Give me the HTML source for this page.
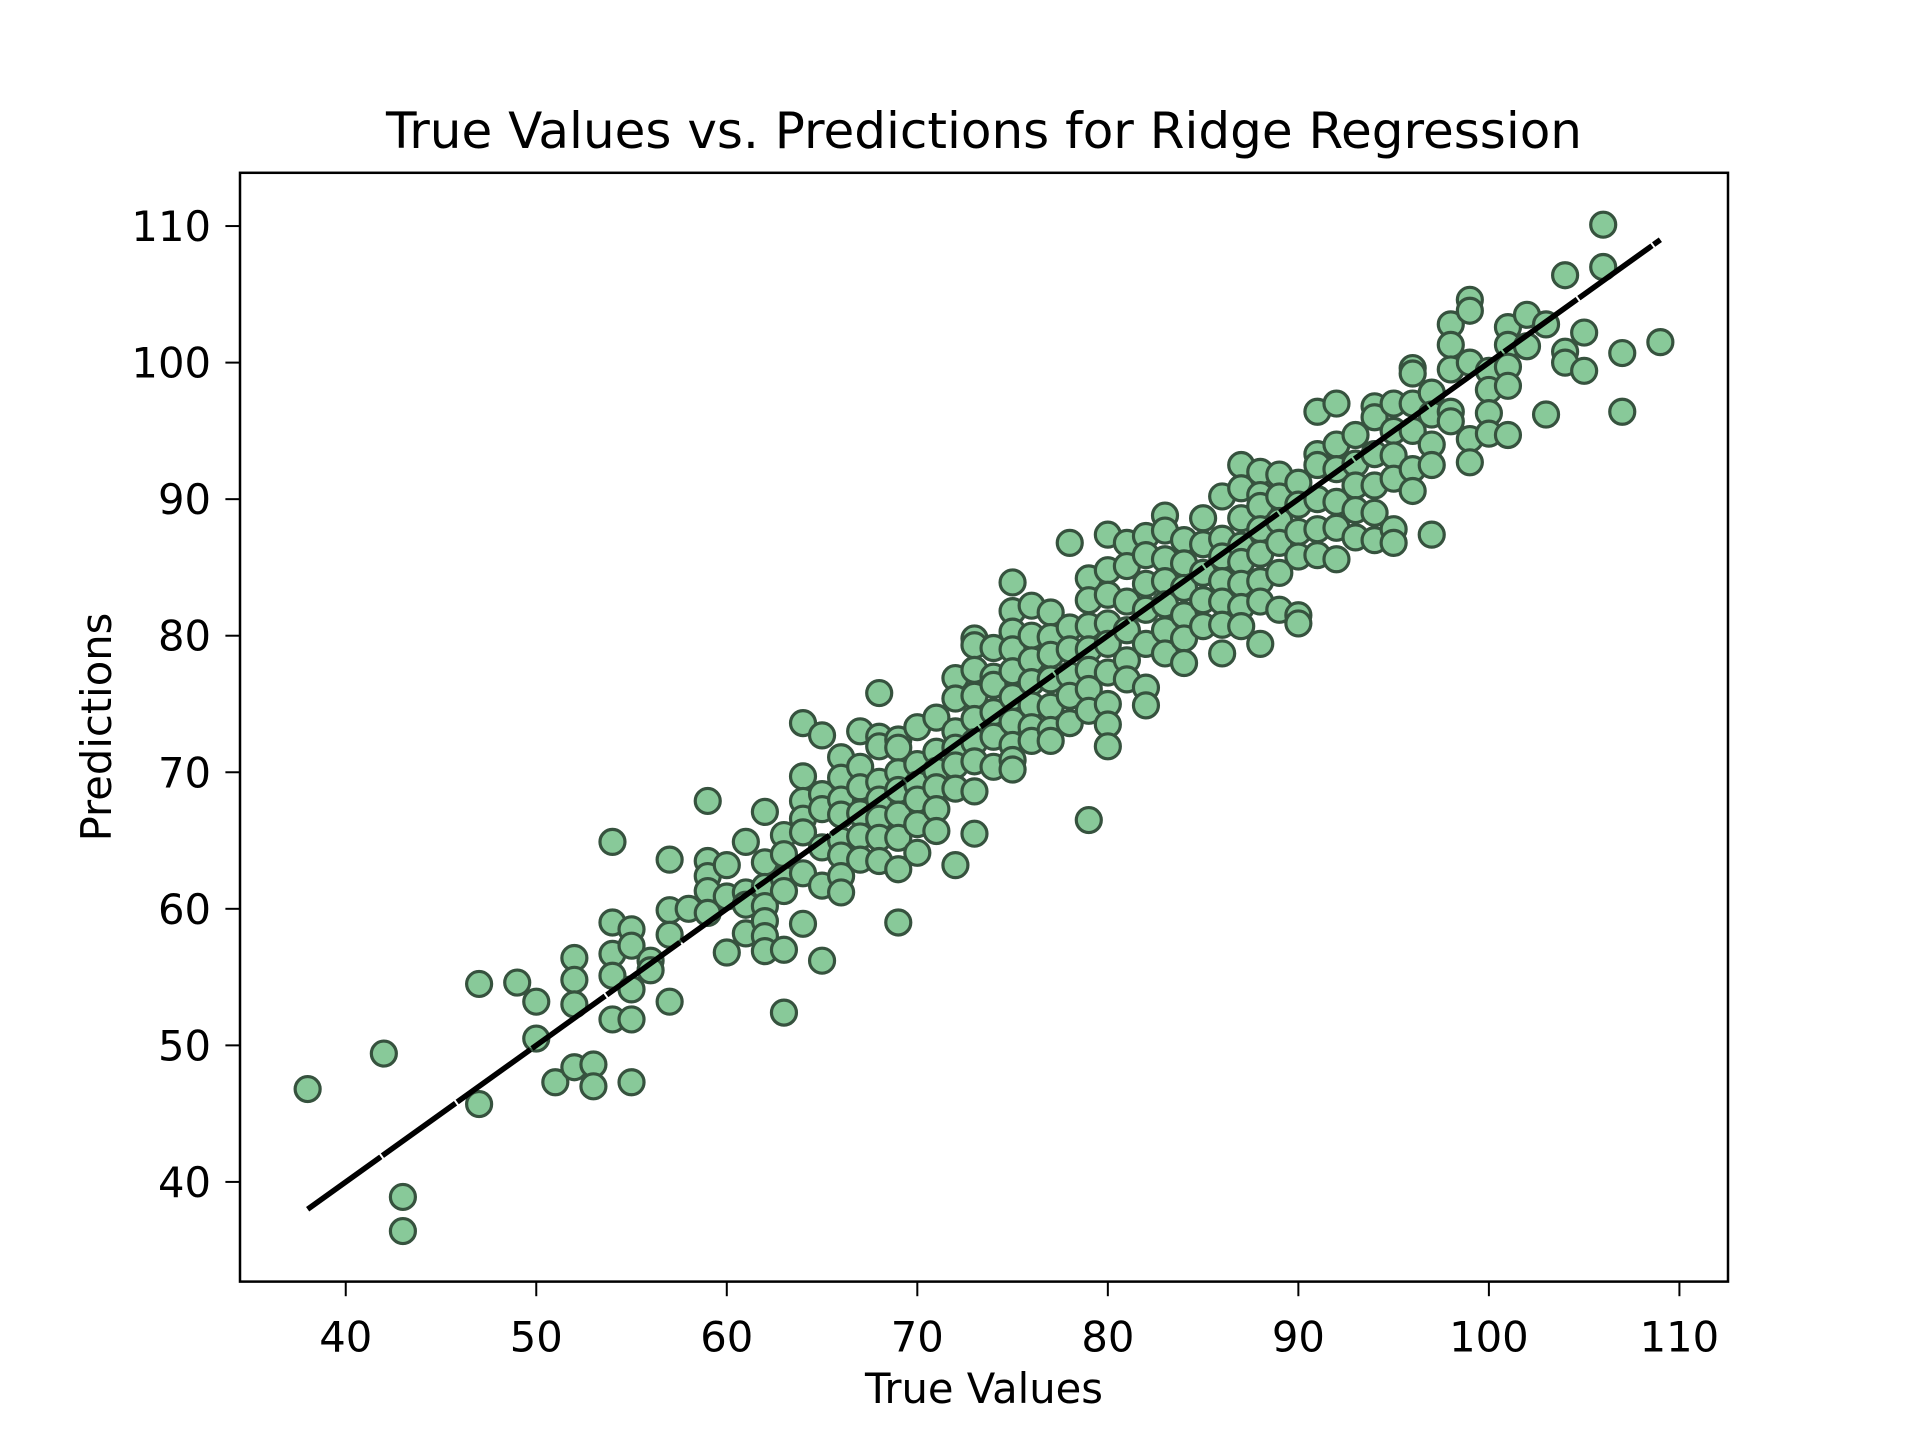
<!DOCTYPE html>
<html><head><meta charset="utf-8"><style>
html,body{margin:0;padding:0;background:#fff;}
svg{display:block;font-family:"DejaVu Sans","Liberation Sans",sans-serif;}
</style></head><body>
<svg id="chart" width="1920" height="1440" viewBox="0 0 1920 1440" xmlns="http://www.w3.org/2000/svg">
<rect width="1920" height="1440" fill="#fff"/>
<text x="984" y="148" font-size="50" text-anchor="middle">True Values vs. Predictions for Ridge Regression</text>
<g id="points"></g>
<g id="line"></g>
<g id="xaxis"></g>
<g id="yaxis"></g>
<rect x="240" y="172.8" width="1488" height="1108.8" fill="none" stroke="#000" stroke-width="2.5"/>
<text x="984" y="1403" font-size="41.7" text-anchor="middle">True Values</text>
<text transform="translate(111,727) rotate(-90)" font-size="41.7" text-anchor="middle">Predictions</text>
</svg>
<script>
const trueValues = [38,42,43,43,47,47,49,50,50,51,52,52,52,52,53,53,54,54,54,54,54,55,55,55,55,55,56,56,57,57,57,57,58,59,59,59,59,59,60,60,60,61,61,61,61,62,62,62,62,62,62,62,63,63,63,63,63,63,64,64,64,64,64,64,64,65,65,65,65,65,65,66,66,66,66,66,66,66,66,67,67,67,67,67,67,68,68,68,68,68,68,68,68,69,69,69,69,69,69,69,69,70,70,70,70,70,70,71,71,71,71,71,71,72,72,72,72,72,72,72,73,73,73,73,73,73,73,73,73,74,74,74,74,74,74,75,75,75,75,75,75,75,75,75,75,76,76,76,76,76,76,76,77,77,77,77,77,77,77,78,78,78,78,78,78,79,79,79,79,79,79,79,79,80,80,80,80,80,80,80,80,80,81,81,81,81,81,81,82,82,82,82,82,82,82,83,83,83,83,83,83,83,84,84,84,84,84,84,85,85,85,85,85,86,86,86,86,86,86,86,87,87,87,87,87,87,87,87,88,88,88,88,88,88,88,88,89,89,89,89,89,89,90,90,90,90,90,90,91,91,91,91,91,91,92,92,92,92,92,92,93,93,93,93,93,94,94,94,94,94,94,95,95,95,95,95,95,96,96,96,96,96,96,97,97,97,97,97,98,98,98,98,98,99,99,99,99,99,100,100,100,100,101,101,101,101,101,102,102,103,103,104,104,104,105,105,106,106,107,107,109];
const predictions = [46.8,49.4,38.9,36.4,54.5,45.7,54.6,53.2,50.5,47.3,56.4,54.8,53.0,48.4,48.6,47.0,64.9,59.0,56.7,55.1,51.9,58.5,57.3,54.1,51.9,47.3,56.2,55.5,63.6,59.9,58.1,53.2,60.0,67.9,63.5,62.4,61.3,59.7,63.2,60.9,56.8,64.9,61.2,60.3,58.2,67.1,63.4,61.6,60.2,59.1,58.0,56.9,65.4,64.0,62.2,61.3,57.0,52.4,73.6,69.7,67.9,66.6,65.6,62.6,58.9,72.7,68.4,67.3,64.5,61.7,56.2,71.1,69.6,68.0,66.9,65.0,63.9,62.4,61.2,73.0,70.4,68.9,67.0,65.3,63.6,75.8,72.6,71.9,69.3,68.0,66.6,65.2,63.5,72.4,71.8,70.0,68.7,66.9,65.2,62.9,59.0,73.3,70.6,69.1,68.0,66.2,64.1,74.0,71.5,70.1,68.9,67.3,65.7,76.9,75.4,73.0,71.8,70.5,68.8,63.2,79.8,79.3,77.5,75.6,73.9,72.2,70.8,68.6,65.5,79.1,77.0,76.4,74.4,72.6,70.4,83.9,81.8,80.3,79.0,77.4,75.5,73.7,72.0,70.9,70.2,82.2,80.0,78.2,76.6,74.9,73.3,72.3,81.7,79.9,78.6,76.8,74.8,73.1,72.3,86.8,80.6,79.0,77.1,75.6,73.6,84.2,82.6,80.7,79.0,77.5,76.1,74.5,66.5,87.4,84.8,83.0,80.9,79.4,77.3,75.0,73.5,71.9,86.8,85.1,82.5,80.4,78.2,76.8,87.3,85.9,83.8,81.9,79.4,76.2,74.9,88.8,87.7,85.6,84.0,82.3,80.4,78.7,87.0,85.3,83.5,81.5,79.8,78.0,88.6,86.7,84.6,82.6,80.7,90.2,87.1,85.8,84.0,82.5,80.8,78.7,92.5,90.8,88.6,86.6,85.4,83.8,82.1,80.7,92.0,90.3,89.5,87.8,86.0,84.0,82.5,79.4,91.8,90.2,88.4,86.8,84.6,81.9,91.2,89.6,87.6,85.8,81.5,80.9,96.4,93.3,92.5,90.0,87.8,85.9,97.0,94.0,92.2,89.8,87.9,85.6,94.7,92.6,91.0,89.2,87.2,96.8,96.0,93.3,91.0,89.0,87.0,97.0,95.0,93.2,91.5,87.8,86.8,99.6,99.2,97.0,95.0,92.2,90.6,97.8,96.2,94.0,92.5,87.4,102.8,101.3,99.5,96.4,95.7,104.6,103.8,100.0,94.4,92.7,99.4,98.0,96.3,94.8,102.6,101.3,99.7,98.3,94.7,103.5,101.2,102.8,96.2,106.4,100.8,100.0,102.2,99.4,110.1,107.0,100.7,96.4,101.5];
const lineEnds = [38,109];
const xTicks = [40,50,60,70,80,90,100,110];
const yTicks = [40,50,60,70,80,90,100,110];

const NS="http://www.w3.org/2000/svg";
const L=240,R=1728,T=172.8,B=1281.6;
const xmin=34.45,xmax=112.55,ymin=32.7,ymax=113.9;
function sx(v){return L+(v-xmin)/(xmax-xmin)*(R-L);}
function sy(v){return B-(v-ymin)/(ymax-ymin)*(B-T);}
function mk(tag,attrs){const e=document.createElementNS(NS,tag);for(const k in attrs)e.setAttribute(k,attrs[k]);return e;}

const pg=document.getElementById('points');
for(let i=0;i<trueValues.length;i++){
  const c=mk('circle',{cx:sx(trueValues[i]),cy:sy(predictions[i]),r:12.5,fill:'#88c999',stroke:'#36523e','stroke-width':3.2});
  
  
  pg.appendChild(c);
}
const lg=document.getElementById('line');
const ln=mk('line',{x1:sx(lineEnds[0]),y1:sy(lineEnds[0]),x2:sx(lineEnds[1]),y2:sy(lineEnds[1]),stroke:'#000','stroke-width':5.5,'stroke-dasharray':'90 2'});


lg.appendChild(ln);

const xg=document.getElementById('xaxis');
xTicks.forEach(v=>{
  const t=mk('line',{x1:sx(v),x2:sx(v),y1:B,y2:B+14.6,stroke:'#000','stroke-width':2});
  
  
  xg.appendChild(t);
  const l=mk('text',{x:sx(v),y:B+70,'font-size':41.7,'text-anchor':'middle'});
  
  
  l.textContent=v;xg.appendChild(l);
});
const yg=document.getElementById('yaxis');
yTicks.forEach(v=>{
  const t=mk('line',{x1:L-14.6,x2:L,y1:sy(v),y2:sy(v),stroke:'#000','stroke-width':2});
  
  
  yg.appendChild(t);
  const l=mk('text',{x:L-29,y:sy(v)+15,'font-size':41.7,'text-anchor':'end'});
  
  
  l.textContent=v;yg.appendChild(l);
});
</script>
</body></html>
